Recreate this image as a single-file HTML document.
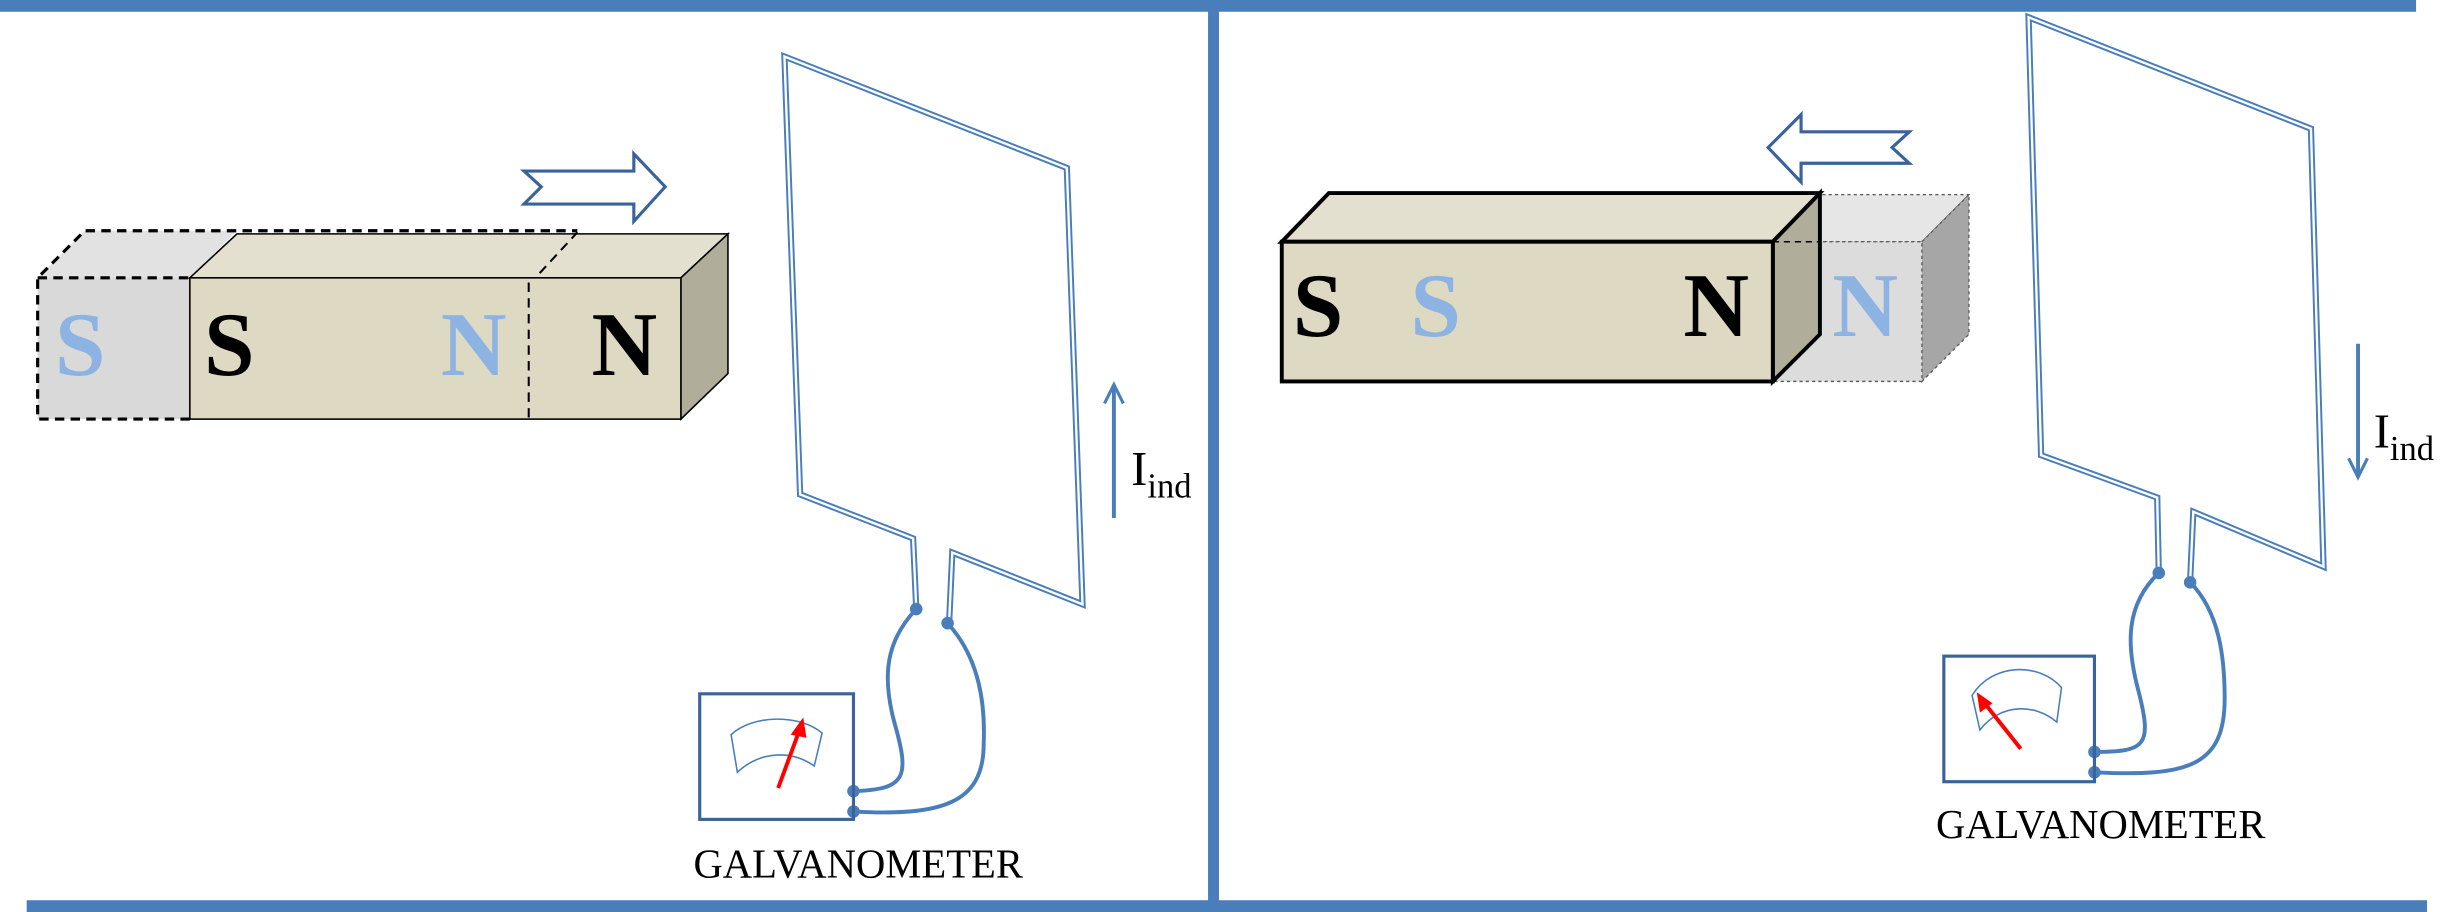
<!DOCTYPE html>
<html><head><meta charset="utf-8"><style>
html,body{margin:0;padding:0;background:#fff;width:2460px;height:912px;overflow:hidden}
svg{display:block}
.mag{font-family:"Liberation Serif",serif;font-weight:bold;font-size:58px}
.lbl{font-family:"Liberation Serif",serif}
</style></head><body>
<svg width="2460" height="912" viewBox="0 0 1568 581" preserveAspectRatio="none">
<g>
<rect x="0" y="0" width="1540" height="7.5" fill="#4a7ebb"/>
<rect x="17" y="573.5" width="1530" height="7.5" fill="#4a7ebb"/>
<rect x="770" y="0" width="7" height="581" fill="#4a7ebb"/>
</g>

<g>
<g>
<polygon points="24,177 54,147 151,147 121,177" fill="#e2e2e2"/>
<rect x="24" y="177" width="97" height="90" fill="#d9d9d9"/>
</g>
<g>
<polygon points="121,177 151,149 464,149 434,177" fill="#e3e0d0" stroke="#000" stroke-width="1"/>
<polygon points="434,177 464,149 464,238 434,267" fill="#b0ad9b" stroke="#000" stroke-width="1"/>
<rect x="121" y="177" width="313" height="90" fill="#ddd9c3" stroke="#000" stroke-width="1"/>
</g>
<g fill="none" stroke="#000" stroke-width="2" stroke-dasharray="6,4">
<polyline points="121,267 24,267 24,177 54,147 368,147"/>
<line x1="24" y1="177" x2="121" y2="177"/>
<line x1="337" y1="180" x2="337" y2="267" stroke-width="1.3"/>
<line x1="344" y1="174" x2="368" y2="148" stroke-width="1.3"/>
</g>
<text class="mag" x="35" y="239" fill="#8db3e2">S</text>
<text class="mag" x="130" y="239" fill="#000">S</text>
<text class="mag" x="281" y="239" fill="#8db3e2">N</text>
<text class="mag" x="377" y="239" fill="#000">N</text>
<polygon points="334,109 404,109 404,98 424,119 404,141 404,130 334,130 345,119" fill="#fff" stroke="#3a639a" stroke-width="2"/>
<g fill="none">
<path d="M584,387 L582,343 L510,315 L500,36 L680,107 L690,385 L607,352 L605,396" stroke="#4a7ebb" stroke-width="4"/>
<path d="M584,387 L582,343 L510,315 L500,36 L680,107 L690,385 L607,352 L605,396" stroke="#fff" stroke-width="1.5"/>
</g>
<g fill="none" stroke="#4a7ebb" stroke-width="2.5">
<path d="M584,388 C565,408 562,430 570,460 C580,495 578,503 544,504"/>
<path d="M604,397 C625,420 628,450 627,474 C627,512 600,520 544,517"/>
</g>
<g fill="#4a7ebb"><circle cx="584" cy="388" r="4"/><circle cx="604" cy="397" r="4"/><circle cx="544" cy="504" r="4"/><circle cx="544" cy="517" r="4"/></g>
<rect x="446" y="442" width="98" height="80" fill="none" stroke="#3a639a" stroke-width="2"/>
<path d="M466,468 C480,455 510,455 524,467 L519,488 C505,478 485,478 470,492 Z" fill="none" stroke="#4a7ebb" stroke-width="1"/>
<g><line x1="496" y1="502" x2="510" y2="464" stroke="#f00" stroke-width="2.5"/><polygon points="512,457 504,468 514,470" fill="#f00"/></g>
<text class="lbl" x="442" y="559" font-size="26" textLength="210" lengthAdjust="spacingAndGlyphs">GALVANOMETER</text>
<g><line x1="710" y1="330" x2="710" y2="247" stroke="#4a7ebb" stroke-width="2.5"/><polyline points="704,257 710,245 716,257" fill="none" stroke="#4a7ebb" stroke-width="2"/></g>
<text class="lbl" x="721" y="309" font-size="31">I<tspan font-size="22" dy="8">ind</tspan></text>
</g>

<g>
<g>
<polygon points="1130,154 1160,124 1255,124 1225,154" fill="#e6e6e6" stroke="#555" stroke-width="0.8" stroke-dasharray="2,2"/>
<polygon points="1225,154 1255,124 1255,213 1225,243" fill="#a6a6a6" stroke="#555" stroke-width="0.8" stroke-dasharray="2,2"/>
<rect x="1130" y="154" width="95" height="89" fill="#dcdcdc" stroke="#555" stroke-width="0.8" stroke-dasharray="2,2"/>
</g>
<g>
<polygon points="817,154 847,123 1160,123 1130,154" fill="#e3e0d0" stroke="#000" stroke-width="2.5"/>
<polygon points="1130,154 1160,123 1160,213 1130,243" fill="#b0ad9b" stroke="#000" stroke-width="2.5"/>
<rect x="817" y="154" width="313" height="89" fill="#ddd9c3" stroke="#000" stroke-width="2.5"/>
<line x1="1130" y1="154" x2="1160" y2="154" stroke="#000" stroke-width="1" stroke-dasharray="4,3"/>
</g>
<text class="mag" x="824" y="214" fill="#000">S</text>
<text class="mag" x="899" y="214" fill="#8db3e2">S</text>
<text class="mag" x="1073" y="214" fill="#000">N</text>
<text class="mag" x="1168" y="214" fill="#8db3e2">N</text>
<polygon points="1217,84 1148,84 1148,73 1127,94 1148,116 1148,104 1217,104 1206,94" fill="#fff" stroke="#3a639a" stroke-width="2"/>
<g fill="none">
<path d="M1376,365 L1375,317 L1301,290 L1293,11 L1473,82 L1481,361 L1398,326 L1396,370" stroke="#4a7ebb" stroke-width="4"/>
<path d="M1376,365 L1375,317 L1301,290 L1293,11 L1473,82 L1481,361 L1398,326 L1396,370" stroke="#fff" stroke-width="1.5"/>
</g>
<g fill="none" stroke="#4a7ebb" stroke-width="2.5">
<path d="M1376,365 C1355,385 1355,410 1363,440 C1372,475 1368,479 1335,479"/>
<path d="M1396,371 C1415,390 1418,420 1418,445 C1418,488 1395,495 1335,492"/>
</g>
<g fill="#4a7ebb"><circle cx="1376" cy="365" r="4"/><circle cx="1396" cy="371" r="4"/><circle cx="1335" cy="479" r="4"/><circle cx="1335" cy="492" r="4"/></g>
<rect x="1239" y="418" width="96" height="80" fill="none" stroke="#3a639a" stroke-width="2"/>
<path d="M1257,443 C1270,422 1300,422 1314,438 L1311,460 C1297,448 1275,448 1262,465 Z" fill="none" stroke="#4a7ebb" stroke-width="1"/>
<g><line x1="1288" y1="477" x2="1265" y2="448" stroke="#f00" stroke-width="2.5"/><polygon points="1260,441 1262,454 1270,448" fill="#f00"/></g>
<text class="lbl" x="1234" y="534" font-size="26" textLength="210" lengthAdjust="spacingAndGlyphs">GALVANOMETER</text>
<g><line x1="1503" y1="219" x2="1503" y2="302" stroke="#4a7ebb" stroke-width="2.5"/><polyline points="1497,292 1503,304 1509,292" fill="none" stroke="#4a7ebb" stroke-width="2"/></g>
<text class="lbl" x="1513" y="285" font-size="31">I<tspan font-size="22" dy="8">ind</tspan></text>
</g>
</svg>
</body></html>
